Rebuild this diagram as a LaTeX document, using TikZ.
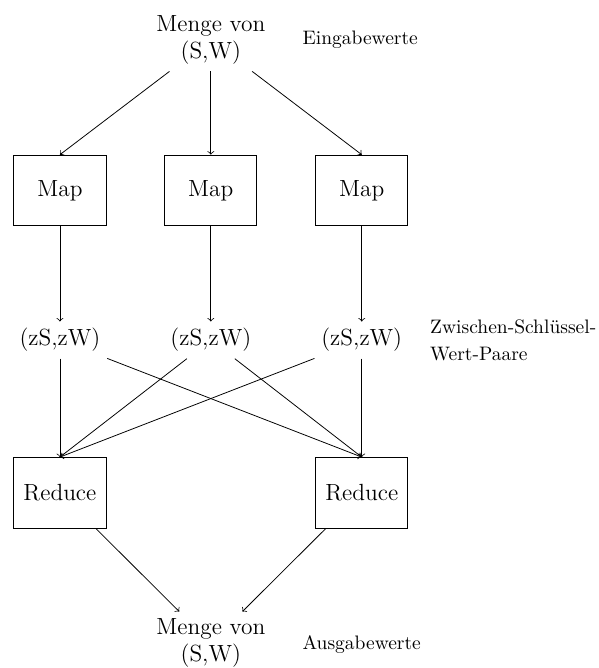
\documentclass[tikz,border=0pt]{standalone}
\usepackage{tikz}
\usetikzlibrary{arrows.meta,positioning}

\begin{document}
\begin{tikzpicture}[
    procbox/.style={rectangle, draw, minimum width=1.66cm, minimum height=1.27cm,
                    font=\large},
    setnode/.style={align=center, font=\large},
    pairnode/.style={font=\large},
    note/.style={anchor=west, align=left},
    >=to
  ]
    \useasboundingbox (0,0) rectangle (10.79,-12.04);

    % Input set
    \node[setnode] (in) at (3.80,-0.72) {Menge von\\(S,W)};
    \node[note] (inlbl) at (5.33,-0.72) {Eingabewerte};

    % Map boxes
    \node[procbox] (m1) at (1.08,-3.43) {Map};
    \node[procbox] (m2) at (3.80,-3.43) {Map};
    \node[procbox] (m3) at (6.52,-3.43) {Map};

    % Arrows: input -> maps
    \draw[->] (in) -- (m1.north);
    \draw[->] (in) -- (m2.north);
    \draw[->] (in) -- (m3.north);

    % Intermediate pairs
    \node[pairnode] (p1) at (1.08,-6.13) {(zS,zW)};
    \node[pairnode] (p2) at (3.80,-6.13) {(zS,zW)};
    \node[pairnode] (p3) at (6.52,-6.13) {(zS,zW)};
    \node[note] (plbl) at (7.63,-6.14) {Zwischen-Schl\"ussel-\\[2pt]Wert-Paare};

    % Arrows: maps -> pairs
    \draw[->] (m1) -- (p1);
    \draw[->] (m2) -- (p2);
    \draw[->] (m3) -- (p3);

    % Reduce boxes
    \node[procbox] (r1) at (1.08,-8.88) {Reduce};
    \node[procbox] (r2) at (6.52,-8.88) {Reduce};

    % Arrows: pairs -> reducers
    \draw[->] (p1) -- (r1.north);
    \draw[->] (p1) -- (r2.north);
    \draw[->] (p2) -- (r1.north);
    \draw[->] (p2) -- (r2.north);
    \draw[->] (p3) -- (r1.north);
    \draw[->] (p3) -- (r2.north);

    % Output set
    \node[setnode] (out) at (3.80,-11.59) {Menge von\\(S,W)};
    \node[note] (outlbl) at (5.33,-11.62) {Ausgabewerte};

    % Arrows: reducers -> output
    \draw[->] (r1) -- (out);
    \draw[->] (r2) -- (out);
  \end{tikzpicture}
\end{document}
